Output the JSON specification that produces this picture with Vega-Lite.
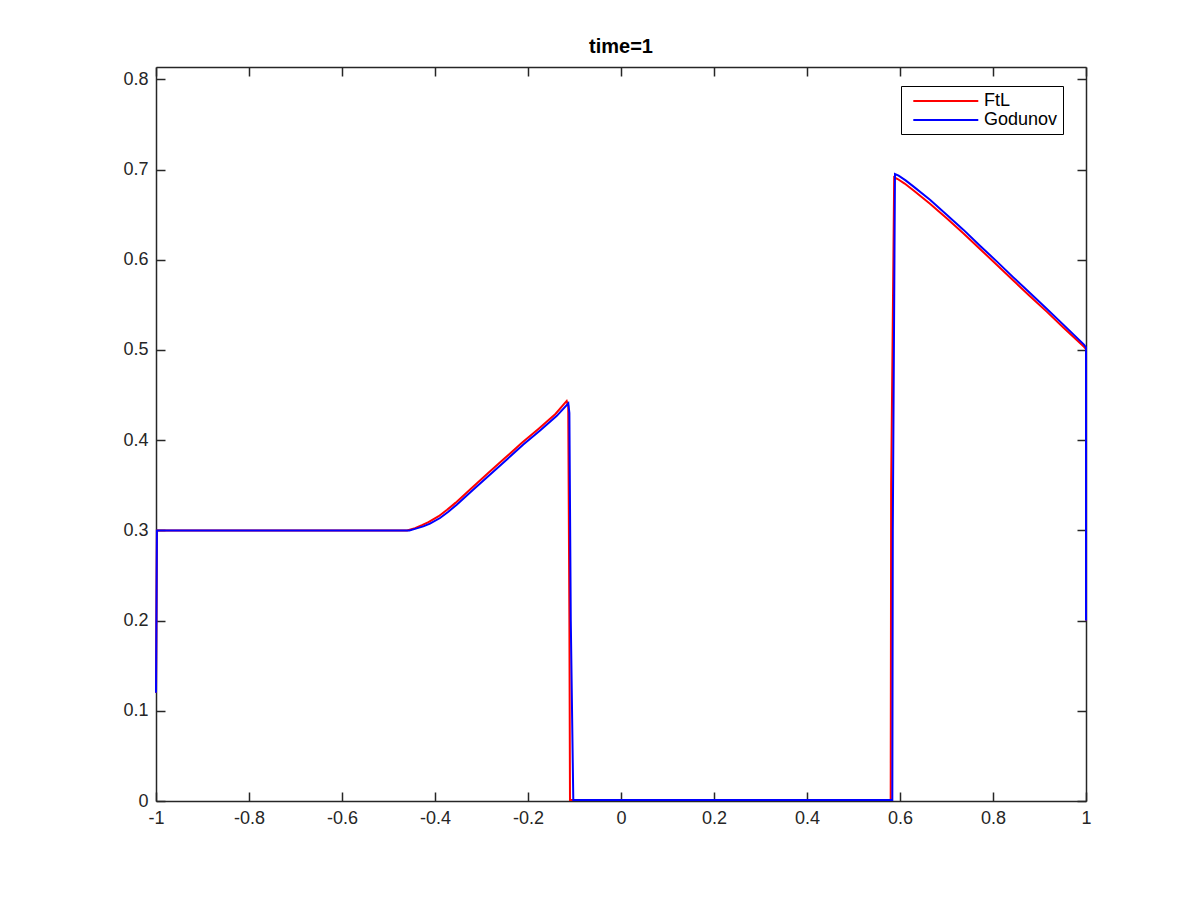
{
  "$schema": "https://vega.github.io/schema/vega-lite/v6.json",
  "width": 930,
  "height": 734,
  "autosize": {"type": "none"},
  "padding": {"left": 156, "top": 67, "right": 114, "bottom": 99},
  "background": "white",
  "config": {"view": {"stroke": null}, "font": "Liberation Sans"},
  "title": {"text": "time=1", "fontSize": 20, "fontWeight": "bold", "color": "#000000", "offset": 9, "font": "Liberation Sans"},
  "data": {"values": [
    {"m": "FtL", "i": 0, "x": -1, "y": 0.12},
    {"m": "FtL", "i": 1, "x": -0.998, "y": 0.3},
    {"m": "FtL", "i": 2, "x": -0.46, "y": 0.3},
    {"m": "FtL", "i": 3, "x": -0.443, "y": 0.3025},
    {"m": "FtL", "i": 4, "x": -0.428, "y": 0.3058},
    {"m": "FtL", "i": 5, "x": -0.414, "y": 0.3092},
    {"m": "FtL", "i": 6, "x": -0.392, "y": 0.3157},
    {"m": "FtL", "i": 7, "x": -0.374, "y": 0.3228},
    {"m": "FtL", "i": 8, "x": -0.356, "y": 0.3305},
    {"m": "FtL", "i": 9, "x": -0.321, "y": 0.3471},
    {"m": "FtL", "i": 10, "x": -0.285, "y": 0.3638},
    {"m": "FtL", "i": 11, "x": -0.249, "y": 0.3804},
    {"m": "FtL", "i": 12, "x": -0.213, "y": 0.3971},
    {"m": "FtL", "i": 13, "x": -0.177, "y": 0.4127},
    {"m": "FtL", "i": 14, "x": -0.141, "y": 0.429},
    {"m": "FtL", "i": 15, "x": -0.1168, "y": 0.4435},
    {"m": "FtL", "i": 16, "x": -0.1135, "y": 0.438},
    {"m": "FtL", "i": 17, "x": -0.111, "y": 0.2},
    {"m": "FtL", "i": 18, "x": -0.1097, "y": 0.001},
    {"m": "FtL", "i": 19, "x": 0.58, "y": 0.001},
    {"m": "FtL", "i": 20, "x": 0.581, "y": 0.35},
    {"m": "FtL", "i": 21, "x": 0.5875, "y": 0.6914},
    {"m": "FtL", "i": 22, "x": 0.595, "y": 0.6895},
    {"m": "FtL", "i": 23, "x": 0.61, "y": 0.6845},
    {"m": "FtL", "i": 24, "x": 0.6286, "y": 0.677},
    {"m": "FtL", "i": 25, "x": 0.6645, "y": 0.662},
    {"m": "FtL", "i": 26, "x": 0.7004, "y": 0.646},
    {"m": "FtL", "i": 27, "x": 0.7361, "y": 0.6295},
    {"m": "FtL", "i": 28, "x": 0.772, "y": 0.612},
    {"m": "FtL", "i": 29, "x": 0.808, "y": 0.5945},
    {"m": "FtL", "i": 30, "x": 0.8437, "y": 0.577},
    {"m": "FtL", "i": 31, "x": 0.8796, "y": 0.5595},
    {"m": "FtL", "i": 32, "x": 0.9155, "y": 0.5425},
    {"m": "FtL", "i": 33, "x": 0.9512, "y": 0.525},
    {"m": "FtL", "i": 34, "x": 0.9957, "y": 0.5035},
    {"m": "FtL", "i": 35, "x": 1.0, "y": 0.501},
    {"m": "FtL", "i": 36, "x": 1.0, "y": 0.2},
    {"m": "Godunov", "i": 0, "x": -1, "y": 0.12},
    {"m": "Godunov", "i": 1, "x": -0.998, "y": 0.3},
    {"m": "Godunov", "i": 2, "x": -0.455, "y": 0.3},
    {"m": "Godunov", "i": 3, "x": -0.4394, "y": 0.3022},
    {"m": "Godunov", "i": 4, "x": -0.4252, "y": 0.3044},
    {"m": "Godunov", "i": 5, "x": -0.4108, "y": 0.3074},
    {"m": "Godunov", "i": 6, "x": -0.3892, "y": 0.3137},
    {"m": "Godunov", "i": 7, "x": -0.3713, "y": 0.3207},
    {"m": "Godunov", "i": 8, "x": -0.3533, "y": 0.3285},
    {"m": "Godunov", "i": 9, "x": -0.318, "y": 0.3451},
    {"m": "Godunov", "i": 10, "x": -0.282, "y": 0.3618},
    {"m": "Godunov", "i": 11, "x": -0.246, "y": 0.3784},
    {"m": "Godunov", "i": 12, "x": -0.21, "y": 0.3951},
    {"m": "Godunov", "i": 13, "x": -0.174, "y": 0.4107},
    {"m": "Godunov", "i": 14, "x": -0.138, "y": 0.427},
    {"m": "Godunov", "i": 15, "x": -0.1133, "y": 0.4409},
    {"m": "Godunov", "i": 16, "x": -0.111, "y": 0.43},
    {"m": "Godunov", "i": 17, "x": -0.108, "y": 0.2},
    {"m": "Godunov", "i": 18, "x": -0.1026, "y": 0.001},
    {"m": "Godunov", "i": 19, "x": 0.5835, "y": 0.001},
    {"m": "Godunov", "i": 20, "x": 0.5845, "y": 0.3},
    {"m": "Godunov", "i": 21, "x": 0.5892, "y": 0.6951},
    {"m": "Godunov", "i": 22, "x": 0.597, "y": 0.6932},
    {"m": "Godunov", "i": 23, "x": 0.612, "y": 0.688},
    {"m": "Godunov", "i": 24, "x": 0.6286, "y": 0.6814},
    {"m": "Godunov", "i": 25, "x": 0.6645, "y": 0.6666},
    {"m": "Godunov", "i": 26, "x": 0.7004, "y": 0.65},
    {"m": "Godunov", "i": 27, "x": 0.7361, "y": 0.6334},
    {"m": "Godunov", "i": 28, "x": 0.772, "y": 0.6156},
    {"m": "Godunov", "i": 29, "x": 0.808, "y": 0.5982},
    {"m": "Godunov", "i": 30, "x": 0.8437, "y": 0.5805},
    {"m": "Godunov", "i": 31, "x": 0.8796, "y": 0.5632},
    {"m": "Godunov", "i": 32, "x": 0.9155, "y": 0.5458},
    {"m": "Godunov", "i": 33, "x": 0.9512, "y": 0.5281},
    {"m": "Godunov", "i": 34, "x": 0.9957, "y": 0.5059},
    {"m": "Godunov", "i": 35, "x": 1.0, "y": 0.503},
    {"m": "Godunov", "i": 36, "x": 1.0, "y": 0.2}
  ]},
  "layer": [
    {
      "transform": [{"filter": "datum.m === 'FtL'"}],
      "mark": {"type": "line", "strokeWidth": 2},
      "encoding": {
        "x": {"field": "x", "type": "quantitative",
          "scale": {"domain": [-1, 1], "nice": false, "zero": false},
          "axis": {"orient": "bottom", "values": [-1, -0.8, -0.6, -0.4, -0.2, 0, 0.2, 0.4, 0.6, 0.8, 1],
            "labelExpr": "'' + datum.value",
            "title": null, "grid": false, "domainColor": "#262626", "domainWidth": 1.5,
            "tickColor": "#262626", "tickWidth": 1.5, "tickSize": -9,
            "labelFontSize": 18, "labelColor": "#262626", "labelPadding": 17,
            "labelFlush": false, "labelOverlap": false, "labelFont": "Liberation Sans"}},
        "y": {"field": "y", "type": "quantitative",
          "scale": {"domain": [0, 0.8137], "nice": false},
          "axis": {"orient": "left", "values": [0, 0.1, 0.2, 0.3, 0.4, 0.5, 0.6, 0.7, 0.8],
            "labelExpr": "'' + datum.value",
            "title": null, "grid": false, "domainColor": "#262626", "domainWidth": 1.5,
            "tickColor": "#262626", "tickWidth": 1.5, "tickSize": -9,
            "labelFontSize": 18, "labelColor": "#262626", "labelPadding": 17,
            "labelFlush": false, "labelOverlap": false, "labelFont": "Liberation Sans"}},
        "color": {"field": "m", "type": "nominal",
          "scale": {"domain": ["FtL", "Godunov"], "range": ["#ff0000", "#0000ff"]},
          "legend": {"orient": "none", "legendX": 745, "legendY": 19, "title": null,
            "symbolType": "M-0.3,0H6.92", "symbolSize": 324, "symbolStrokeWidth": 2,
            "labelOffset": 58, "labelFontSize": 18, "labelColor": "#000000", "labelFont": "Liberation Sans",
            "padding": 5, "strokeColor": "#000000", "fillColor": "#ffffff",
            "rowPadding": 0}},
        "order": {"field": "i", "type": "quantitative"}
      }
    },
    {
      "transform": [{"filter": "datum.m === 'Godunov'"}],
      "mark": {"type": "line", "strokeWidth": 2},
      "encoding": {
        "x": {"field": "x", "type": "quantitative",
          "axis": {"orient": "top", "values": [-1, -0.8, -0.6, -0.4, -0.2, 0, 0.2, 0.4, 0.6, 0.8, 1],
            "labels": false, "title": null, "grid": false, "domainColor": "#262626", "domainWidth": 1.5,
            "tickColor": "#262626", "tickWidth": 1.5, "tickSize": -9}},
        "y": {"field": "y", "type": "quantitative",
          "axis": {"orient": "right", "values": [0, 0.1, 0.2, 0.3, 0.4, 0.5, 0.6, 0.7, 0.8],
            "labels": false, "title": null, "grid": false, "domainColor": "#262626", "domainWidth": 1.5,
            "tickColor": "#262626", "tickWidth": 1.5, "tickSize": -9}},
        "color": {"field": "m", "type": "nominal"},
        "order": {"field": "i", "type": "quantitative"}
      }
    }
  ],
  "resolve": {"axis": {"x": "independent", "y": "independent"}}
}
